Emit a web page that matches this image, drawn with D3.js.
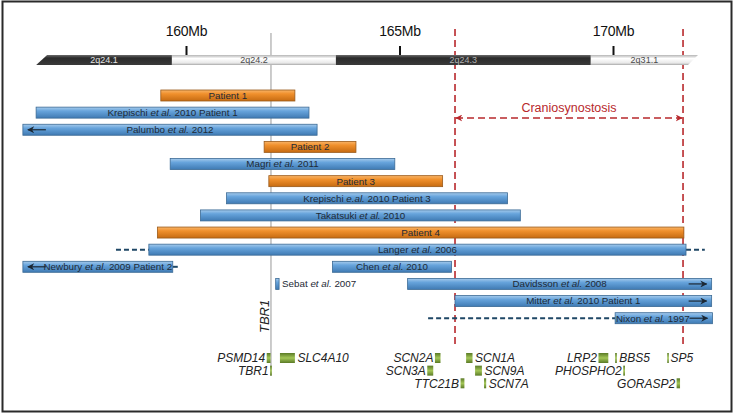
<!DOCTYPE html>
<html>
<head>
<meta charset="utf-8">
<script src="https://cdn.jsdelivr.net/npm/d3@7"></script>
<style>
  html, body { margin: 0; padding: 0; background: #fff; }
  svg { display: block; font-family: "Liberation Sans", Arial, sans-serif; }
</style>
</head>
<body>
<svg id="chart" width="735" height="414"></svg>
<script>
// ---------- DATA ----------
const tickValues = [160, 165, 170];
const tickLabels = ["160Mb", "165Mb", "170Mb"];

const bandNames  = ["2q24.1", "2q24.2", "2q24.3", "2q31.1"];
const bandStarts = [156.49, 159.67, 163.51, 169.48];
const bandEnds   = [159.67, 163.51, 169.48, 171.99];
const bandStains = ["dark", "light", "dark", "light"];

const cnvLabels = [
  "Patient 1", "Krepischi et al. 2010 Patient 1", "Palumbo et al. 2012", "Patient 2",
  "Magri et al. 2011", "Patient 3", "Krepischi e.al. 2010 Patient 3", "Takatsuki et al. 2010",
  "Patient 4", "Langer et al. 2006", "Newbury et al. 2009 Patient 2", "Chen et al. 2010",
  "Sebat et al. 2007", "Davidsson et al. 2008", "Mitter et al. 2010 Patient 1", "Nixon et al. 1997"
];
const cnvStarts = [159.41, 156.49, 156.18, 161.83, 159.63, 161.94, 160.95, 160.34,
                   159.33, 159.13, 156.18, 163.43, 162.10, 165.19, 166.30, 170.05];
const cnvEnds   = [162.55, 162.88, 163.07, 163.98, 164.89, 166.01, 167.53, 167.83,
                   171.66, 171.71, 159.69, 166.22, 162.18, 172.31, 172.31, 172.33];
const cnvRows   = [0, 1, 2, 3, 4, 5, 6, 7, 8, 9, 10, 10, 11, 11, 12, 13];
const cnvTypes  = ["patient", "published", "published", "patient", "published", "patient", "published", "published",
                   "patient", "published", "published", "published", "published", "published", "published", "published"];
const cnvArrows = [null, null, "left", null, null, null, null, null,
                   null, null, "left", null, null, "right", "right", "right"];
const cnvLabelOutside = [false, false, false, false, false, false, false, false,
                         false, false, false, false, true, false, false, false];
// uncertain (dashed) extensions
const extCnv   = [9, 9, 10, 15];
const extFrom  = [158.36, 171.71, 159.69, 165.67];
const extTo    = [159.13, 172.15, 159.86, 170.05];

const critStart = 166.30, critEnd = 171.64;
const critLabel = "Craniosynostosis";
const tbr1Pos = 161.99;
const tbr1Label = "TBR1";

const geneNames  = ["PSMD14", "TBR1", "SLC4A10", "SCN2A", "SCN3A", "TTC21B", "SCN1A", "SCN9A", "SCN7A",
                    "LRP2", "BBS5", "PHOSPHO2", "SP5", "GORASP2"];
const geneStarts = [161.89, 161.97, 162.20, 165.83, 165.65, 166.43, 166.56, 166.77, 166.98,
                    169.66, 170.05, 170.24, 171.27, 171.49];
const geneEnds   = [161.98, 162.01, 162.55, 165.96, 165.79, 166.52, 166.71, 166.93, 167.03,
                    169.89, 170.09, 170.28, 171.29, 171.57];
const geneRows   = [0, 1, 0, 0, 1, 2, 0, 1, 2, 0, 0, 1, 0, 2];
const geneSides  = ["left", "left", "right", "left", "left", "left", "right", "right", "right",
                    "left", "right", "left", "right", "left"];

// ---------- SCALES ----------
const svg = d3.select("#chart");
const x = d3.scaleLinear().domain([160, 170]).range([186, 613]);
const yRow = d3.scaleLinear().domain([0, 13]).range([90, 312.7]);
const barH = 11;
const yGene = d3.scaleLinear().domain([0, 2]).range([353, 378.3]);
const geneH = 10;
const chrTop = 55, chrH = 10;

// ---------- DEFS ----------
const defs = svg.append("defs");
function grad(id, stops) {
  const g = defs.append("linearGradient").attr("id", id)
    .attr("x1", 0).attr("y1", 0).attr("x2", 0).attr("y2", 1);
  stops.forEach(s => g.append("stop").attr("offset", s[0]).attr("stop-color", s[1]));
}
grad("gBlue",   [[0, "#a6cbec"], [0.35, "#67a4dc"], [1, "#3f7ab3"]]);
grad("gOrange", [[0, "#f8b468"], [0.35, "#f0902c"], [1, "#c66b12"]]);
grad("gGreen",  [[0, "#5a7a26"], [0.5, "#a3c657"], [1, "#5a7a26"]]);
grad("gDark",   [[0, "#6a6a6a"], [0.3, "#2b2b2b"], [1, "#3a3a3a"]]);
grad("gLight",  [[0, "#b5b5b5"], [0.35, "#ffffff"], [0.8, "#e8e8e8"], [1, "#a8a8a8"]]);

const xs0 = x(bandStarts[0]), xs1 = x(bandEnds[bandEnds.length - 1]);
defs.append("clipPath").attr("id", "chrClip").append("path")
  .attr("d", `M${xs0 + 11},${chrTop} L${xs1},${chrTop} L${xs1 - 10},${chrTop + chrH} L${xs0},${chrTop + chrH} Z`);

function marker(id, color, w, h) {
  defs.append("marker").attr("id", id).attr("viewBox", "0 0 10 10")
    .attr("refX", 9).attr("refY", 5).attr("markerWidth", w).attr("markerHeight", h)
    .attr("orient", "auto-start-reverse").attr("markerUnits", "userSpaceOnUse")
    .append("path").attr("d", "M0,0 L10,5 L0,10 L3,5 Z").attr("fill", color);
}
marker("arrDark", "#1b2733", 8, 7);
marker("arrRed", "#b8282c", 7, 7);

// ---------- FRAME ----------
svg.append("rect").attr("x", 2.5).attr("y", 1.5).attr("width", 729).attr("height", 410)
  .attr("fill", "#fff").attr("stroke", "#2a2a2a").attr("stroke-width", 2);

// ---------- VERTICAL REFERENCE LINES ----------
svg.append("line").attr("x1", x(tbr1Pos)).attr("x2", x(tbr1Pos))
  .attr("y1", 33).attr("y2", yGene(1) + geneH)
  .attr("stroke", "#a9a9a9").attr("stroke-width", 1.2);

[critStart, critEnd].forEach(v => {
  svg.append("line").attr("x1", x(v)).attr("x2", x(v)).attr("y1", 29).attr("y2", 348)
    .attr("stroke", "#b8282c").attr("stroke-width", 1.6).attr("stroke-dasharray", "7,4");
});

// ---------- CHROMOSOME IDEOGRAM ----------
const chrG = svg.append("g").attr("clip-path", "url(#chrClip)");
chrG.selectAll("rect").data(bandNames).join("rect")
  .attr("x", (d, i) => x(bandStarts[i])).attr("y", chrTop)
  .attr("width", (d, i) => x(bandEnds[i]) - x(bandStarts[i])).attr("height", chrH)
  .attr("fill", (d, i) => bandStains[i] === "dark" ? "url(#gDark)" : "url(#gLight)");
svg.selectAll("text.band").data(bandNames).join("text").attr("class", "band")
  .attr("x", (d, i) => (x(bandStarts[i]) + x(bandEnds[i])) / 2)
  .attr("y", chrTop + chrH / 2 + 3.2).attr("text-anchor", "middle")
  .attr("font-size", 9)
  .attr("fill", (d, i) => bandStains[i] === "dark" ? (i === 0 ? "#e6e6e6" : "#b0b0b0") : "#4a4a4a")
  .text(d => d);

// ticks
const axis = d3.axisTop(x).tickValues(tickValues)
  .tickFormat((d, i) => tickLabels[i]).tickSize(9).tickPadding(10);
const axG = svg.append("g").attr("transform", `translate(0,${chrTop})`).call(axis);
axG.select(".domain").remove();
axG.selectAll(".tick line").attr("stroke", "#111").attr("stroke-width", 2);
axG.selectAll(".tick text").attr("font-size", 14).attr("fill", "#111")
  .attr("font-family", "Liberation Sans, Arial, sans-serif").attr("letter-spacing", -0.3);

// ---------- CRANIOSYNOSTOSIS REGION ----------
svg.append("line").attr("x1", x(critStart) + 1).attr("x2", x(critEnd) - 1)
  .attr("y1", 118).attr("y2", 118)
  .attr("stroke", "#b8282c").attr("stroke-width", 1.6).attr("stroke-dasharray", "7,4")
  .attr("marker-start", "url(#arrRed)").attr("marker-end", "url(#arrRed)");
svg.append("text").attr("x", (x(critStart) + x(critEnd)) / 2).attr("y", 112)
  .attr("text-anchor", "middle").attr("font-size", 12.5).attr("fill", "#b8282c")
  .text(critLabel);

// ---------- CNV BARS ----------
const idx = d3.range(cnvLabels.length);

svg.selectAll("line.ext").data(d3.range(extCnv.length)).join("line").attr("class", "ext")
  .attr("x1", k => x(extFrom[k])).attr("x2", k => x(extTo[k]))
  .attr("y1", k => yRow(cnvRows[extCnv[k]]) + barH / 2).attr("y2", k => yRow(cnvRows[extCnv[k]]) + barH / 2)
  .attr("stroke", "#1f4766").attr("stroke-width", 2).attr("stroke-dasharray", "5,3");

svg.selectAll("rect.cnv").data(idx).join("rect").attr("class", "cnv")
  .attr("x", i => x(cnvStarts[i])).attr("y", i => yRow(cnvRows[i]))
  .attr("width", i => x(cnvEnds[i]) - x(cnvStarts[i])).attr("height", barH)
  .attr("fill", i => cnvTypes[i] === "patient" ? "url(#gOrange)" : "url(#gBlue)")
  .attr("stroke", i => cnvTypes[i] === "patient" ? "#9a5a1a" : "#3b6a95")
  .attr("stroke-width", 0.8);

const arrLen = 18, arrInset = 5;
svg.selectAll("line.arr").data(idx.filter(i => cnvArrows[i])).join("line").attr("class", "arr")
  .attr("x1", i => cnvArrows[i] === "left" ? x(cnvStarts[i]) + arrInset + arrLen : x(cnvEnds[i]) - arrInset - arrLen)
  .attr("x2", i => cnvArrows[i] === "left" ? x(cnvStarts[i]) + arrInset : x(cnvEnds[i]) - arrInset)
  .attr("y1", i => yRow(cnvRows[i]) + barH / 2).attr("y2", i => yRow(cnvRows[i]) + barH / 2)
  .attr("stroke", "#1b2733").attr("stroke-width", 1.2).attr("marker-end", "url(#arrDark)");

function labelParts(s) {
  return s.split(/(et al\.|e\.al\.)/).filter(p => p.length);
}
const lab = svg.selectAll("text.cnv").data(idx).join("text").attr("class", "cnv")
  .attr("x", i => {
    if (cnvLabelOutside[i]) return x(cnvEnds[i]) + 3;
    let c = (x(cnvStarts[i]) + x(cnvEnds[i])) / 2;
    if (i === 10) c += 10;
    if (i === 15) c -= 11;
    return c;
  })
  .attr("y", i => yRow(cnvRows[i]) + barH / 2 + 3.4)
  .attr("text-anchor", i => cnvLabelOutside[i] ? "start" : "middle")
  .attr("font-size", 9.8).attr("fill", "#1e2a36");
lab.each(function (i) {
  const t = d3.select(this);
  labelParts(cnvLabels[i]).forEach(p => {
    t.append("tspan").attr("font-style", /^(et al\.|e\.al\.)$/.test(p) ? "italic" : "normal").text(p);
  });
});

// ---------- TBR1 vertical label ----------
svg.append("text").attr("transform", `translate(${x(tbr1Pos) - 2},333) rotate(-90)`)
  .attr("font-size", 13).attr("font-style", "italic").attr("fill", "#222")
  .text(tbr1Label);

// ---------- GENES ----------
const gIdx = d3.range(geneNames.length);
svg.selectAll("rect.gene").data(gIdx).join("rect").attr("class", "gene")
  .attr("x", i => x(geneStarts[i])).attr("y", i => yGene(geneRows[i]))
  .attr("width", i => Math.max(1.6, x(geneEnds[i]) - x(geneStarts[i]))).attr("height", geneH)
  .attr("fill", "url(#gGreen)");
svg.selectAll("text.gene").data(gIdx).join("text").attr("class", "gene")
  .attr("x", i => geneSides[i] === "left" ? x(geneStarts[i]) - 1.5 : x(geneEnds[i]) + 2.5)
  .attr("y", i => yGene(geneRows[i]) + geneH / 2 + 4.3)
  .attr("text-anchor", i => geneSides[i] === "left" ? "end" : "start")
  .attr("font-size", 12).attr("font-style", "italic").attr("fill", "#222")
  .text(i => geneNames[i]);
</script>
</body>
</html>
